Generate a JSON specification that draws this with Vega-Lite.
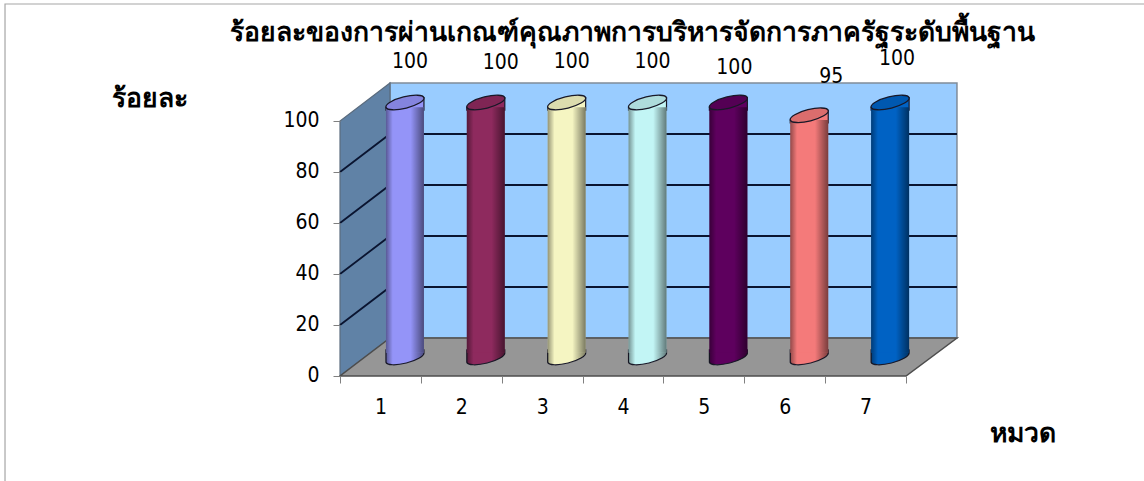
{
"$schema":"https://vega.github.io/schema/vega-lite/v6.json",
"width":1144,"height":481,"padding":0,"autosize":{"type":"none"},
"background":"white",
"view":{"stroke":null},
"config":{"font":"DejaVu Sans","axis":{"grid":false}},
"title":{"text":"ร้อยละของการผ่านเกณฑ์คุณภาพการบริหารจัดการภาครัฐระดับพื้นฐาน","anchor":"middle","orient":"top","offset":-46,"dx":60,"fontSize":26.5,"fontWeight":"bold","color":"black","font":"DejaVu Sans"},
"datasets":{
"bars":[{"cat":1,"value":100},{"cat":2,"value":100},{"cat":3,"value":100},{"cat":4,"value":100},{"cat":5,"value":100},{"cat":6,"value":95},{"cat":7,"value":100}],
"ticks":[{"edge":0.5},{"edge":7.5}],
"frame":[{"a":-3.643,"b":10.6,"c":145.88,"d":-45}],
"left":[{"x":0.5,"lo":0,"hi":100},{"x":1.118,"lo":14.9,"hi":114.9}],
"back":[{"x":1.118,"lo":14.9,"hi":114.9},{"x":8.13,"lo":14.9,"hi":114.9}],
"floor":[{"x":0.5,"lo":0,"hi":0},{"x":1.118,"lo":0,"hi":14.9},{"x":7.5,"lo":0,"hi":14.9},{"x":8.13,"lo":14.9,"hi":14.9}],
"grid":[
{"level":20,"x":0.5,"y":20},{"level":20,"x":1.118,"y":34.9},{"level":20,"x":8.13,"y":34.9},
{"level":40,"x":0.5,"y":40},{"level":40,"x":1.118,"y":54.9},{"level":40,"x":8.13,"y":54.9},
{"level":60,"x":0.5,"y":60},{"level":60,"x":1.118,"y":74.9},{"level":60,"x":8.13,"y":74.9},
{"level":80,"x":0.5,"y":80},{"level":80,"x":1.118,"y":94.9},{"level":80,"x":8.13,"y":94.9}]
},
"resolve":{"axis":{"x":"independent","y":"independent"}},
"layer":[
{"data":{"name":"frame"},"mark":{"type":"rect","fill":"transparent","stroke":"#a6a6a6","strokeWidth":1.2},
 "encoding":{"x":{"field":"a","type":"quantitative","scale":{"domain":[-3.705,10.443],"nice":false,"zero":false,"padding":0},"axis":null},"x2":{"field":"b"},"y":{"field":"c","type":"quantitative","scale":{"domain":[-41.18,147.45],"nice":false,"zero":false,"padding":0},"axis":null},"y2":{"field":"d"}}},
{"data":{"name":"back"},"mark":{"type":"area","fill":"#99ccff","stroke":"#808c99","strokeWidth":1.5},
 "encoding":{"x":{"field":"x","type":"quantitative","scale":{"domain":[-3.705,10.443],"nice":false,"zero":false,"padding":0},"axis":null},"y":{"field":"lo","type":"quantitative","scale":{"domain":[-41.18,147.45],"nice":false,"zero":false,"padding":0},"axis":null},"y2":{"field":"hi"}}},
{"data":{"name":"left"},"mark":{"type":"area","fill":"#6082a6","stroke":"#5a6b7d","strokeWidth":1.2},
 "encoding":{"x":{"field":"x","type":"quantitative","scale":{"domain":[-3.705,10.443],"nice":false,"zero":false,"padding":0},"axis":null},"y":{"field":"lo","type":"quantitative","scale":{"domain":[-41.18,147.45],"nice":false,"zero":false,"padding":0},"axis":null},"y2":{"field":"hi"}}},
{"data":{"name":"grid"},"mark":{"type":"line","stroke":"#0a1430","strokeWidth":1.8},
 "encoding":{"x":{"field":"x","type":"quantitative","scale":{"domain":[-3.705,10.443],"nice":false,"zero":false,"padding":0},"axis":null},"y":{"field":"y","type":"quantitative","scale":{"domain":[-41.18,147.45],"nice":false,"zero":false,"padding":0},"axis":null},"detail":{"field":"level"}}},
{"data":{"name":"floor"},"mark":{"type":"area","fill":"#969696","stroke":"#4d4d4d","strokeWidth":1.5},
 "encoding":{"x":{"field":"x","type":"quantitative","scale":{"domain":[-3.705,10.443],"nice":false,"zero":false,"padding":0},"axis":null},"y":{"field":"lo","type":"quantitative","scale":{"domain":[-41.18,147.45],"nice":false,"zero":false,"padding":0},"axis":null},"y2":{"field":"hi"}}},
{"data":{"name":"bars"},"mark":{"type":"point","filled":true,"opacity":1,"size":1444,"shape":"M-1,-0.4 L1,-0.4 L1,-0.25 A1.03,0.3,-14,0,1,-1,0.25 Z","yOffset":-18.5,"stroke":"#1a1a2a","strokeWidth":1.2},
 "encoding":{"x":{"field":"cat","type":"quantitative","scale":{"domain":[-3.705,10.443],"nice":false,"zero":false,"padding":0},"axis":null},"y":{"datum":0,"type":"quantitative","scale":{"domain":[-41.18,147.45],"nice":false,"zero":false,"padding":0},"axis":null},
 "xOffset":{"value":24.5},
 "color":{"field":"cat","type":"nominal","legend":null,"scale":{"domain":[1,2,3,4,5,6,7],"range":["#9494f8","#8e2a5e","#f5f5c2","#c2f5f5","#5e005e","#f47a7a","#0062c4"]}}}},
{"data":{"name":"bars"},"mark":{"type":"point","filled":true,"opacity":1,"size":1444,"stroke":null,"shape":"M-1,-0.4 L1,-0.4 L1,-0.25 A1.03,0.3,-14,0,1,-1,0.25 Z","yOffset":-18.5,
 "fill":{"gradient":"linear","x1":0,"y1":0,"x2":1,"y2":0,"stops":[{"offset":0,"color":"rgba(0,0,0,0.4)"},{"offset":0.18,"color":"rgba(0,0,0,0)"},{"offset":0.65,"color":"rgba(0,0,0,0)"},{"offset":1,"color":"rgba(0,0,0,0.5)"}]}},
 "encoding":{"x":{"field":"cat","type":"quantitative","scale":{"domain":[-3.705,10.443],"nice":false,"zero":false,"padding":0},"axis":null},"y":{"datum":0,"type":"quantitative","scale":{"domain":[-41.18,147.45],"nice":false,"zero":false,"padding":0},"axis":null},"xOffset":{"value":24.5}}},
{"data":{"name":"bars"},"mark":{"type":"point","filled":true,"opacity":1,"size":1444,"shape":"M-1,0.25 L1,-0.25 L1,0.4 L-1,0.4 Z","yOffset":-18.5,"stroke":"#1a1a2a","strokeWidth":1.2},
 "encoding":{"x":{"field":"cat","type":"quantitative","scale":{"domain":[-3.705,10.443],"nice":false,"zero":false,"padding":0},"axis":null},"y":{"field":"value","type":"quantitative","scale":{"domain":[-41.18,147.45],"nice":false,"zero":false,"padding":0},"axis":null},
 "xOffset":{"value":24.5},
 "color":{"field":"cat","type":"nominal","legend":null}}},
{"data":{"name":"bars"},"mark":{"type":"bar","orient":"vertical","size":38,"yOffset":-13.75,"y2Offset":-23.25},
 "encoding":{"x":{"field":"cat","type":"quantitative","scale":{"domain":[-3.705,10.443],"nice":false,"zero":false,"padding":0},"axis":null},"y":{"field":"value","type":"quantitative","scale":{"domain":[-41.18,147.45],"nice":false,"zero":false,"padding":0},"axis":null},"y2":{"datum":0},
 "xOffset":{"value":24.5},
 "color":{"field":"cat","type":"nominal","legend":null}}},
{"data":{"name":"bars"},"mark":{"type":"bar","orient":"vertical","size":38,"yOffset":-13.75,"y2Offset":-23.25,
 "fill":{"gradient":"linear","x1":0,"y1":0,"x2":1,"y2":0,"stops":[{"offset":0,"color":"rgba(0,0,0,0.4)"},{"offset":0.18,"color":"rgba(0,0,0,0)"},{"offset":0.65,"color":"rgba(0,0,0,0)"},{"offset":1,"color":"rgba(0,0,0,0.5)"}]}},
 "encoding":{"x":{"field":"cat","type":"quantitative","scale":{"domain":[-3.705,10.443],"nice":false,"zero":false,"padding":0},"axis":null},"y":{"field":"value","type":"quantitative","scale":{"domain":[-41.18,147.45],"nice":false,"zero":false,"padding":0},"axis":null},"y2":{"datum":0},"xOffset":{"value":24.5}}},
{"data":{"name":"bars"},"mark":{"type":"point","filled":true,"opacity":1,"size":1444,"shape":"M-1,0.25 A1.03,0.3,-14,1,1,1,-0.25 A1.03,0.3,-14,1,1,-1,0.25 Z","yOffset":-18.5,"stroke":"#1a1a2a","strokeWidth":1.3},
 "encoding":{"x":{"field":"cat","type":"quantitative","scale":{"domain":[-3.705,10.443],"nice":false,"zero":false,"padding":0},"axis":null},"y":{"field":"value","type":"quantitative","scale":{"domain":[-41.18,147.45],"nice":false,"zero":false,"padding":0},"axis":null},"xOffset":{"value":24.5},
 "color":{"field":"cat","type":"nominal","legend":null}}},
{"data":{"name":"bars"},"mark":{"type":"point","filled":true,"opacity":0.1,"size":1444,"color":"black","stroke":null,"shape":"M-1,0.25 A1.03,0.3,-14,1,1,1,-0.25 A1.03,0.3,-14,1,1,-1,0.25 Z","yOffset":-18.5},
 "encoding":{"x":{"field":"cat","type":"quantitative","scale":{"domain":[-3.705,10.443],"nice":false,"zero":false,"padding":0},"axis":null},"y":{"field":"value","type":"quantitative","scale":{"domain":[-41.18,147.45],"nice":false,"zero":false,"padding":0},"axis":null},"xOffset":{"value":24.5}}},
{"data":{"name":"bars"},"transform":[{"filter":"datum.cat==1||datum.cat==3||datum.cat==4"}],"mark":{"type":"text","font":"DejaVu Sans Condensed","fontSize":21,"color":"black","dx":5,"dy":-59},
 "encoding":{"x":{"field":"cat","type":"quantitative","scale":{"domain":[-3.705,10.443],"nice":false,"zero":false,"padding":0},"axis":null},"y":{"field":"value","type":"quantitative","scale":{"domain":[-41.18,147.45],"nice":false,"zero":false,"padding":0},"axis":null},"text":{"field":"value"},"xOffset":{"value":24.5}}},
{"data":{"name":"bars"},"transform":[{"filter":"datum.cat==2"}],"mark":{"type":"text","font":"DejaVu Sans Condensed","fontSize":21,"color":"black","dx":15,"dy":-58},
 "encoding":{"x":{"field":"cat","type":"quantitative","scale":{"domain":[-3.705,10.443],"nice":false,"zero":false,"padding":0},"axis":null},"y":{"field":"value","type":"quantitative","scale":{"domain":[-41.18,147.45],"nice":false,"zero":false,"padding":0},"axis":null},"text":{"field":"value"},"xOffset":{"value":24.5}}},
{"data":{"name":"bars"},"transform":[{"filter":"datum.cat==5"}],"mark":{"type":"text","font":"DejaVu Sans Condensed","fontSize":21,"color":"black","dx":6,"dy":-53},
 "encoding":{"x":{"field":"cat","type":"quantitative","scale":{"domain":[-3.705,10.443],"nice":false,"zero":false,"padding":0},"axis":null},"y":{"field":"value","type":"quantitative","scale":{"domain":[-41.18,147.45],"nice":false,"zero":false,"padding":0},"axis":null},"text":{"field":"value"},"xOffset":{"value":24.5}}},
{"data":{"name":"bars"},"transform":[{"filter":"datum.cat==6"}],"mark":{"type":"text","font":"DejaVu Sans Condensed","fontSize":21,"color":"black","dx":22,"dy":-57},
 "encoding":{"x":{"field":"cat","type":"quantitative","scale":{"domain":[-3.705,10.443],"nice":false,"zero":false,"padding":0},"axis":null},"y":{"field":"value","type":"quantitative","scale":{"domain":[-41.18,147.45],"nice":false,"zero":false,"padding":0},"axis":null},"text":{"field":"value"},"xOffset":{"value":24.5}}},
{"data":{"name":"bars"},"transform":[{"filter":"datum.cat==7"}],"mark":{"type":"text","font":"DejaVu Sans Condensed","fontSize":21,"color":"black","dx":7,"dy":-62},
 "encoding":{"x":{"field":"cat","type":"quantitative","scale":{"domain":[-3.705,10.443],"nice":false,"zero":false,"padding":0},"axis":null},"y":{"field":"value","type":"quantitative","scale":{"domain":[-41.18,147.45],"nice":false,"zero":false,"padding":0},"axis":null},"text":{"field":"value"},"xOffset":{"value":24.5}}},
{"data":{"name":"bars"},"mark":{"type":"point","opacity":0},
 "encoding":{
 "x":{"field":"cat","type":"quantitative","scale":{"domain":[-3.705,10.443],"nice":false,"zero":false,"padding":0},"axis":{"orient":"bottom","offset":-105,"zindex":1,"values":[1,2,3,4,5,6,7],"ticks":false,"domain":false,"labelFont":"DejaVu Sans Condensed","labelFontSize":21,"labelColor":"black","labelPadding":20,"title":"หมวด","titleFontSize":26.5,"titleFontWeight":"bold","titleColor":"black","titleX":1022,"titleY":65,"titleBaseline":"alphabetic","format":"d"}},
 "y":{"field":"value","type":"quantitative","scale":{"domain":[-41.18,147.45],"nice":false,"zero":false,"padding":0},"axis":{"orient":"left","offset":-340,"zindex":1,"values":[0,20,40,60,80,100],"domain":false,"tickColor":"#808080","tickSize":7,"labelFont":"DejaVu Sans Condensed","labelFontSize":21,"labelColor":"black","labelPadding":14,"title":"ร้อยละ","titleAngle":0,"titleFontSize":26.5,"titleFontWeight":"bold","titleColor":"black","titleX":-191,"titleY":106,"titleAlign":"center","titleBaseline":"alphabetic"}}}},
{"data":{"name":"ticks"},"mark":{"type":"point","opacity":0},
 "encoding":{"x":{"field":"edge","type":"quantitative","scale":{"domain":[-3.705,10.443],"nice":false,"zero":false,"padding":0},"axis":{"orient":"bottom","offset":-105,"zindex":1,"values":[0.5,1.5,2.5,3.5,4.5,5.5,6.5,7.5],"labels":false,"domain":false,"tickColor":"#808080","tickSize":7,"title":null}},
 "y":{"datum":0,"type":"quantitative","scale":{"domain":[-41.18,147.45],"nice":false,"zero":false,"padding":0},"axis":null}}}
]
}
